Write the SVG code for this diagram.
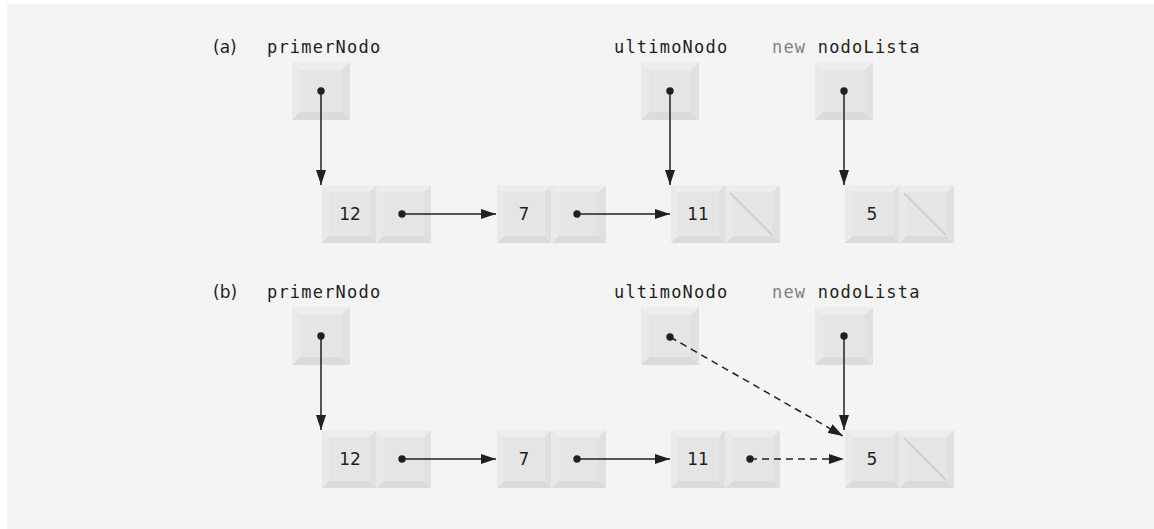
<svg xmlns="http://www.w3.org/2000/svg" xmlns:xlink="http://www.w3.org/1999/xlink" width="1154" height="529" viewBox="0 0 1154 529">
<style>
.lbl{font-family:"DejaVu Sans Mono",monospace;font-size:17px;letter-spacing:1.2px;fill:#231f20}
.new{fill:#808080}
.tag{font-family:"DejaVu Sans",sans-serif;font-size:17px;fill:#231f20}
.num{font-family:"DejaVu Sans",sans-serif;font-size:17px;fill:#231f20;text-anchor:middle}
.ln{stroke:#231f20;stroke-width:1.5;fill:none}
.dash{stroke-dasharray:7 5}
.dot{fill:#231f20}
.null{stroke:#c8c8c9;stroke-width:1.5}
</style>
<defs>
<marker id="ah" markerUnits="userSpaceOnUse" markerWidth="16" markerHeight="10" refX="15" refY="5" orient="auto">
<path d="M0,0 L15,5 L0,10 z" fill="#231f20"/>
</marker>
<g id="cell">
<polygon points="0,0 54.5,0 47.5,7 7,7" fill="#ededee"/>
<polygon points="0,0 7,7 7,51 0,58" fill="#e9e9ea"/>
<polygon points="54.5,0 54.5,58 47.5,51 47.5,7" fill="#e0e0e1"/>
<polygon points="0,58 54.5,58 47.5,51 7,51" fill="#dbdbdc"/>
<rect x="7" y="7" width="40.5" height="44" fill="#e5e5e6"/>
</g>
<g id="ptr">
<polygon points="0,0 58,0 50,8 8,8" fill="#ededee"/>
<polygon points="0,0 8,8 8,50 0,58" fill="#e9e9ea"/>
<polygon points="58,0 58,58 50,50 50,8" fill="#e0e0e1"/>
<polygon points="0,58 58,58 50,50 8,50" fill="#dbdbdc"/>
<rect x="8" y="8" width="42" height="42" fill="#e5e5e6"/>
</g>
</defs>
<rect width="1154" height="529" fill="#ffffff"/>
<rect x="7" y="4" width="1147" height="525" fill="#f4f4f4"/>

<!-- Part (a) -->
<text class="tag" x="213" y="53">(a)</text>
<g id="a-primerNodo">
<text class="lbl" x="267" y="53">primerNodo</text>
<use xlink:href="#ptr" x="292" y="62"/>
</g>
<g id="a-ultimoNodo">
<text class="lbl" x="614" y="53">ultimoNodo</text>
<use xlink:href="#ptr" x="641" y="62"/>
</g>
<g id="a-nuevoNodo">
<text class="lbl" x="772" y="53"><tspan class="new">new</tspan> nodoLista</text>
<use xlink:href="#ptr" x="815" y="62"/>
</g>
<g id="a-n12">
<use xlink:href="#cell" x="322" y="185"/><use xlink:href="#cell" x="376.5" y="185"/>
<text class="num" x="350" y="220">12</text>
</g>
<g id="a-n7">
<use xlink:href="#cell" x="497" y="185"/><use xlink:href="#cell" x="551.5" y="185"/>
<text class="num" x="524" y="220">7</text>
</g>
<g id="a-n11">
<use xlink:href="#cell" x="671" y="185"/><use xlink:href="#cell" x="725.5" y="185"/>
<text class="num" x="698" y="220">11</text>
<line class="null" x1="730" y1="193" x2="772" y2="235"/>
</g>
<g id="a-n5">
<use xlink:href="#cell" x="845" y="185"/><use xlink:href="#cell" x="899.5" y="185"/>
<text class="num" x="872" y="220">5</text>
<line class="null" x1="904" y1="193" x2="946" y2="235"/>
</g>

<!-- Part (b) -->
<text class="tag" x="213" y="298">(b)</text>
<g id="b-primerNodo">
<text class="lbl" x="267" y="298">primerNodo</text>
<use xlink:href="#ptr" x="292" y="307"/>
</g>
<g id="b-ultimoNodo">
<text class="lbl" x="614" y="298">ultimoNodo</text>
<use xlink:href="#ptr" x="641" y="307"/>
</g>
<g id="b-nuevoNodo">
<text class="lbl" x="772" y="298"><tspan class="new">new</tspan> nodoLista</text>
<use xlink:href="#ptr" x="815" y="307"/>
</g>
<g id="b-n12">
<use xlink:href="#cell" x="322" y="430"/><use xlink:href="#cell" x="376.5" y="430"/>
<text class="num" x="350" y="465">12</text>
</g>
<g id="b-n7">
<use xlink:href="#cell" x="497" y="430"/><use xlink:href="#cell" x="551.5" y="430"/>
<text class="num" x="524" y="465">7</text>
</g>
<g id="b-n11">
<use xlink:href="#cell" x="671" y="430"/><use xlink:href="#cell" x="725.5" y="430"/>
<text class="num" x="698" y="465">11</text>
</g>
<g id="b-n5">
<use xlink:href="#cell" x="845" y="430"/><use xlink:href="#cell" x="899.5" y="430"/>
<text class="num" x="872" y="465">5</text>
<line class="null" x1="904" y1="438" x2="946" y2="480"/>
</g>

<g id="connectors">
<!-- (a) -->
<circle class="dot" cx="321" cy="91" r="3.7"/>
<line class="ln" x1="321" y1="91" x2="321" y2="185" marker-end="url(#ah)"/>
<circle class="dot" cx="402" cy="214" r="3.7"/>
<line class="ln" x1="402" y1="214" x2="496" y2="214" marker-end="url(#ah)"/>
<circle class="dot" cx="577" cy="214" r="3.7"/>
<line class="ln" x1="577" y1="214" x2="670" y2="214" marker-end="url(#ah)"/>
<circle class="dot" cx="670" cy="91" r="3.7"/>
<line class="ln" x1="670" y1="91" x2="670" y2="185" marker-end="url(#ah)"/>
<circle class="dot" cx="844" cy="91" r="3.7"/>
<line class="ln" x1="844" y1="91" x2="844" y2="185" marker-end="url(#ah)"/>
<!-- (b) -->
<circle class="dot" cx="321" cy="336" r="3.7"/>
<line class="ln" x1="321" y1="336" x2="321" y2="430" marker-end="url(#ah)"/>
<circle class="dot" cx="402" cy="459" r="3.7"/>
<line class="ln" x1="402" y1="459" x2="496" y2="459" marker-end="url(#ah)"/>
<circle class="dot" cx="577" cy="459" r="3.7"/>
<line class="ln" x1="577" y1="459" x2="670" y2="459" marker-end="url(#ah)"/>
<circle class="dot" cx="750" cy="459" r="3.7"/>
<line class="ln dash" x1="750" y1="459" x2="844" y2="459" marker-end="url(#ah)"/>
<circle class="dot" cx="670" cy="337" r="3.7"/>
<line class="ln dash" x1="670" y1="337" x2="843" y2="436" marker-end="url(#ah)"/>
<circle class="dot" cx="844" cy="336" r="3.7"/>
<line class="ln" x1="844" y1="336" x2="844" y2="430" marker-end="url(#ah)"/>
</g>
</svg>
